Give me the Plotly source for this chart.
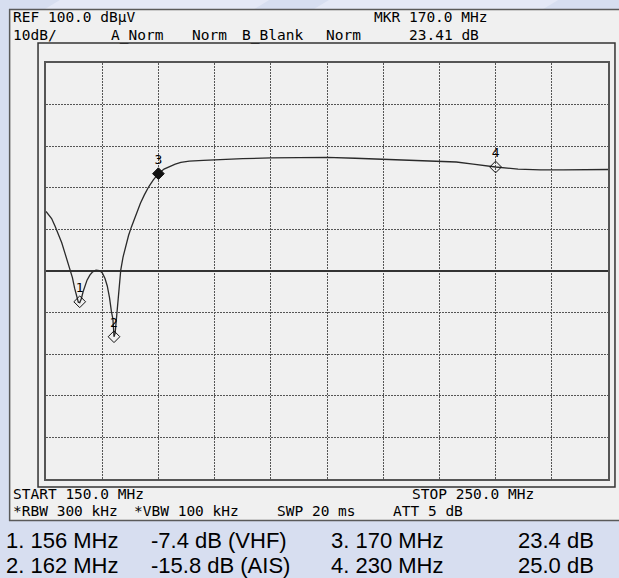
import plotly.graph_objects as go

# ---------------- data ----------------
freq_mhz = [150.0, 150.5, 151.0, 151.6, 152.2, 152.8, 153.3, 153.8, 154.3, 154.7,
            155.1, 155.45, 155.75, 156.0, 156.3, 156.6, 156.9, 157.3, 157.8, 158.3,
            158.9, 159.5, 160.0, 160.5, 160.9, 161.3, 161.65, 161.9, 162.0, 162.1,
            162.3, 162.45, 162.7, 163.0, 163.3, 163.7, 164.2, 164.7, 165.2, 165.7,
            166.2, 166.8, 167.5, 168.3, 169.1, 170.0, 171.0, 172.0, 173.0, 174.0,
            175.5, 178.0, 181.0, 185.0, 190.0, 195.0, 200.0, 205.0, 210.0, 215.0,
            220.0, 223.0, 226.0, 230.0, 234.0, 238.0, 242.0, 246.0, 250.0]
level_db = [14.3, 13.5, 12.6, 10.8, 8.8, 6.8, 4.6, 2.4, 0.2, -1.6,
            -4.2, -6.4, -7.5, -7.6, -6.6, -5.0, -3.6, -2.2, -1.0, -0.2,
            0.2, 0.1, -0.4, -1.8, -3.6, -6.4, -9.8, -11.5, -13.5, -15.8,
            -15.0, -12.5, -8.5, -3.5, 0.2, 3.3, 6.3, 8.6, 10.6, 12.4,
            14.4, 16.3, 18.3, 20.3, 21.9, 23.4, 24.5, 25.2, 25.7, 26.1,
            26.4, 26.6, 26.8, 27.0, 27.2, 27.3, 27.3, 27.1, 26.9, 26.7,
            26.5, 26.2, 25.7, 25.0, 24.5, 24.3, 24.3, 24.4, 24.4]

marker_labels = ["1", "2", "3", "4"]
marker_freq = [156.0, 162.1, 170.0, 230.0]
marker_db = [-7.4, -15.8, 23.4, 25.0]

header_texts = ["REF 100.0 dB\u03bcV", "MKR 170.0 MHz",
                "10dB/", "A_Norm", "Norm", "B_Blank", "Norm", "23.41 dB"]
footer_texts = ["START 150.0 MHz", "STOP 250.0 MHz",
                "*RBW 300 kHz", "*VBW 100 kHz", "SWP 20 ms", "ATT 5 dB"]
caption_rows = [["1. 156 MHz", "-7.4 dB (VHF)", "3. 170 MHz", "23.4 dB"],
                ["2. 162 MHz", "-15.8 dB (AIS)", "4. 230 MHz", "25.0 dB"]]

# ---------------- layout helpers ----------------
W, H = 619, 578
L, R, T, B = 46, 610, 63, 479


def px(x):
    return (x - L) / (R - L)


def py(y):
    return (B - y) / (B - T)


fig = go.Figure()

fig.add_trace(go.Scatter(x=freq_mhz, y=level_db, mode="lines",
                         line=dict(color="#2a2a2a", width=1.3),
                         hoverinfo="skip", showlegend=False))

sym = ["diamond-open", "diamond-open", "diamond", "diamond-open"]
fig.add_trace(go.Scatter(x=marker_freq, y=marker_db, mode="markers+text",
                         text=marker_labels, textposition="top center",
                         textfont=dict(family="DejaVu Sans Mono", size=13, color="#000"),
                         marker=dict(symbol=sym, size=9, color="#111",
                                     line=dict(color="#111", width=1)),
                         showlegend=False, hoverinfo="skip"))

shapes = []
# background light bands (top strip)
shapes.append(dict(type="path", xref="paper", yref="paper",
                   path=f"M {px(60)},{py(0)} L {px(270)},{py(0)} L {px(250)},{py(12)} L {px(40)},{py(12)} Z",
                   fillcolor="#e4e8f6", line=dict(width=0), layer="below"))
shapes.append(dict(type="path", xref="paper", yref="paper",
                   path=f"M {px(330)},{py(0)} L {px(560)},{py(0)} L {px(540)},{py(12)} L {px(310)},{py(12)} Z",
                   fillcolor="#e4e8f6", line=dict(width=0), layer="below"))
# instrument panel
shapes.append(dict(type="rect", xref="paper", yref="paper",
                   x0=px(9.5), x1=px(625), y0=py(520.5), y1=py(9.5),
                   fillcolor="#f0f0f0", line=dict(color="#5a5a5a", width=1.5), layer="below"))
# outer frame
shapes.append(dict(type="rect", xref="paper", yref="paper",
                   x0=px(38), x1=px(617), y0=py(487), y1=py(43),
                   fillcolor="rgba(0,0,0,0)", line=dict(color="#333", width=1.5), layer="below"))

ann = []
mono = dict(family="DejaVu Sans Mono", size=14.5, color="#000")
head_pos = [(11, 17), (373, 17), (11, 35), (109, 35), (191, 35), (241, 35), (325, 35), (408, 35)]
for t, (x, y) in zip(header_texts, head_pos):
    ann.append(dict(text=t, x=px(x), y=py(y), xref="paper", yref="paper",
                    xanchor="left", yanchor="middle", showarrow=False, font=mono))
foot_pos = [(11, 494), (411, 494), (11, 511), (132, 511), (276, 511), (392, 511)]
for t, (x, y) in zip(footer_texts, foot_pos):
    ann.append(dict(text=t, x=px(x), y=py(y), xref="paper", yref="paper",
                    xanchor="left", yanchor="middle", showarrow=False, font=mono))
sans = dict(family="Liberation Sans", size=22, color="#000")
cap_x = [5, 150, 331, 597]
cap_anchor = ["left", "left", "left", "right"]
cap_y = [540.8, 565.5]
for row, y in zip(caption_rows, cap_y):
    for t, x, a in zip(row, cap_x, cap_anchor):
        ann.append(dict(text=t, x=px(x), y=py(y), xref="paper", yref="paper",
                        xanchor=a, yanchor="middle", showarrow=False, font=sans,
                        borderpad=0))

fig.update_layout(
    width=W, height=H,
    margin=dict(l=L, r=W - R, t=T, b=H - B, pad=0),
    paper_bgcolor="#d7def0", plot_bgcolor="#f0f0f0",
    shapes=shapes, annotations=ann,
    xaxis=dict(range=[150, 250], dtick=10, tick0=150, showticklabels=False, ticks="",
               showgrid=True, gridcolor="#555", griddash="2px,1px", gridwidth=1,
               zeroline=False, showline=True, linecolor="#555", linewidth=2, mirror=True,
               fixedrange=True),
    yaxis=dict(range=[-50, 50], dtick=10, tick0=0, showticklabels=False, ticks="",
               showgrid=True, gridcolor="#555", griddash="2px,1px", gridwidth=1,
               zeroline=True, zerolinecolor="#333", zerolinewidth=1.5,
               showline=True, linecolor="#555", linewidth=2, mirror=True,
               fixedrange=True),
)

fig.write_html("out.html", config={"displayModeBar": False},
               post_script="document.body.style.margin='0';document.body.style.padding='0';"
                           "document.body.style.background='#d7def0';")
